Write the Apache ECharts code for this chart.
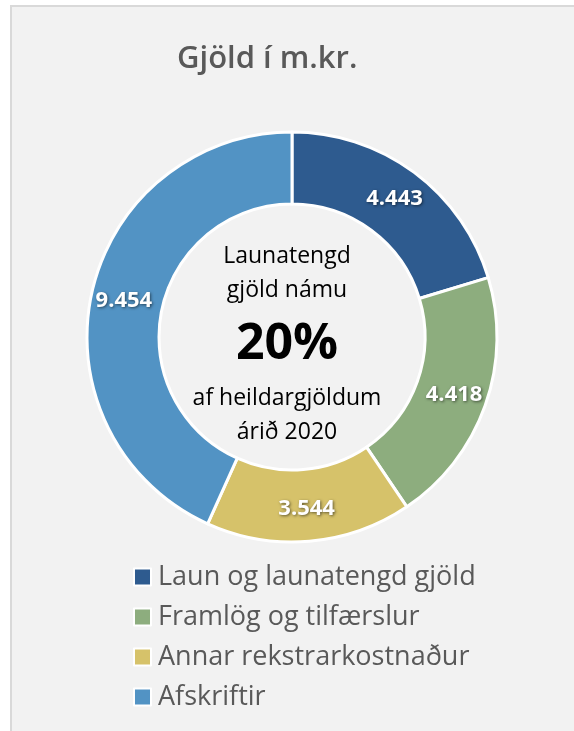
<!DOCTYPE html>
<html>
<head>
<meta charset="utf-8">
<script src="https://cdn.jsdelivr.net/npm/echarts@6/dist/echarts.min.js"></script>
<style>
  html, body { margin: 0; padding: 0; background: #fff; }
  #frame {
    position: absolute; left: 10px; top: 5px; width: 600px; height: 760px;
    background: #f2f2f2; border: 2px solid #d9d9d9; box-sizing: border-box;
  }
  #chart { position: absolute; left: 0; top: 0; width: 574px; height: 731px; }
</style>
</head>
<body>
<div id="frame"></div>
<div id="chart"></div>
<script>
// gögn
const categories = ['Laun og launatengd gjöld', 'Framlög og tilfærslur', 'Annar rekstrarkostnaður', 'Afskriftir']
const values = [4443, 4418, 3544, 9454]
const colors = ['#2e5b8f', '#8dad7e', '#d6c26a', '#5293c4']
const centerLines = ['Launatengd', 'gjöld námu', '20%', 'af heildargjöldum', 'árið 2020']

const fontFamily = '"Open Sans", "Noto Sans", sans-serif'

function fmt(v) {
  return String(v).replace(/\B(?=(\d{3})+(?!\d))/g, '.')
}

const chart = echarts.init(document.getElementById('chart'))
const option = {
  backgroundColor: 'transparent',
  color: colors,
  title: {
    text: 'Gjöld í m.kr.',
    left: 172,
    top: 39,
    textStyle: {
      fontFamily: fontFamily,
      fontSize: 31,
      fontWeight: 600,
      color: '#595959'
    }
  },
  legend: {
    orient: 'vertical',
    left: 133,
    top: 562,
    padding: 0,
    itemWidth: 17,
    itemHeight: 17,
    itemGap: 10,
    icon: 'rect',
    itemStyle: { borderColor: '#fff', borderWidth: 2 },
    textStyle: {
      fontFamily: fontFamily,
      fontSize: 27,
      color: '#595959',
      lineHeight: 30,
      padding: [0, 0, 0, 2]
    },
    data: categories
  },
  graphic: [{
    type: 'text',
    left: 'center',
    top: 245,
    style: {
      text: [
        '{a|' + centerLines[0] + '}',
        '{a|' + centerLines[1] + '}',
        '{b|' + centerLines[2] + '}',
        '{a|' + centerLines[3] + '}',
        '{a|' + centerLines[4] + '}'
      ].join('\n'),
      textAlign: 'center',
      x: 5,
      rich: {
        a: { fontFamily: fontFamily, fontSize: 23, color: '#404040', lineHeight: 34, align: 'center' },
        b: { fontFamily: fontFamily, fontSize: 50, fontWeight: 'bold', color: '#000', lineHeight: 74, align: 'center' }
      }
    }
  }],
  series: [{
    type: 'pie',
    center: [292, 337],
    radius: [133, 205],
    startAngle: 90,
    clockwise: true,
    avoidLabelOverlap: false,
    itemStyle: { borderColor: '#fff', borderWidth: 3 },
    label: {
      show: true,
      position: 'inside',
      formatter: (p) => fmt(p.value),
      fontFamily: fontFamily,
      fontSize: 22,
      fontWeight: 'bold',
      color: '#fff',
      textShadowColor: 'rgba(0,0,0,0.55)',
      textShadowBlur: 3,
      textShadowOffsetX: 1,
      textShadowOffsetY: 1
    },
    labelLine: { show: false },
    emphasis: { scale: false },
    data: categories.map((name, i) => ({ name: name, value: values[i] }))
  }]
}
chart.setOption(option)
window.onresize = () => {
  chart.resize()
}
</script>
</body>
</html>
